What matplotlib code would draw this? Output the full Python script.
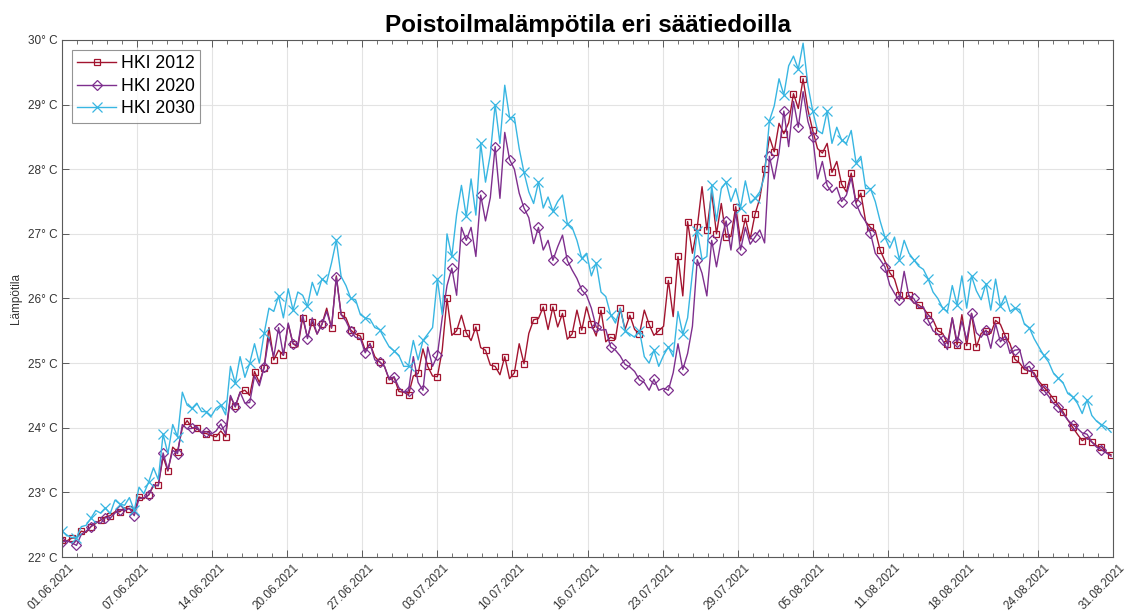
import numpy as np
import pandas as pd
import matplotlib
matplotlib.use("Agg")
import matplotlib.pyplot as plt
import matplotlib.dates as mdates
import matplotlib.transforms as mtransforms
from matplotlib.ticker import FixedLocator

plt.rcParams['font.family'] = ['Liberation Sans', 'DejaVu Sans']

# Exhaust-air temperature, one value every 10 hours from 01.06.2021
start_time = "2021-06-01 00:00"
end_time = "2021-08-31 00:00"
step_hours = 10

hki_2012 = [
    22.26, 22.25, 22.29, 22.30, 22.40, 22.38, 22.47, 22.52, 22.57, 22.62,
    22.64, 22.70, 22.70, 22.76, 22.75, 22.70, 22.93, 22.90, 22.96, 23.10,
    23.11, 23.55, 23.33, 23.70, 23.63, 24.00, 24.11, 24.00, 23.99, 23.92,
    23.91, 23.88, 23.86, 23.95, 23.86, 24.48, 24.33, 24.55, 24.58, 24.50,
    24.87, 24.70, 24.93, 25.55, 25.05, 25.20, 25.12, 25.60, 25.30, 25.25,
    25.70, 25.40, 25.64, 25.45, 25.60, 25.85, 25.54, 26.35, 25.75, 25.70,
    25.51, 25.45, 25.42, 25.20, 25.30, 25.10, 25.02, 24.95, 24.74, 24.78,
    24.56, 24.55, 24.51, 24.80, 24.84, 25.22, 24.95, 24.80, 24.79, 25.20,
    26.00, 25.43, 25.50, 25.74, 25.47, 25.35, 25.56, 25.24, 25.20, 24.97,
    24.95, 24.82, 25.10, 24.76, 24.85, 25.30, 24.99, 25.46, 25.67, 25.69,
    25.87, 25.52, 25.87, 25.56, 25.77, 25.37, 25.45, 25.82, 25.51, 25.87,
    25.60, 25.42, 25.82, 25.33, 25.40, 25.37, 25.85, 25.52, 25.74, 25.52,
    25.45, 25.82, 25.60, 25.43, 25.50, 25.57, 26.28, 25.72, 26.65, 26.04,
    27.19, 26.70, 27.10, 27.73, 27.06, 27.64, 27.00, 27.47, 26.95, 26.96,
    27.42, 26.89, 27.24, 26.92, 27.30, 27.55, 28.00, 28.50, 28.27, 28.71,
    28.55, 28.72, 29.17, 28.94, 29.40, 28.92, 28.60, 28.32, 28.25, 28.40,
    27.95, 28.12, 27.77, 27.65, 27.94, 27.48, 27.63, 27.19, 27.10, 27.05,
    26.75, 26.58, 26.40, 26.30, 26.05, 25.99, 26.05, 25.93, 25.90, 25.85,
    25.75, 25.67, 25.50, 25.46, 25.30, 25.70, 25.28, 25.75, 25.27, 25.77,
    25.25, 25.46, 25.50, 25.46, 25.66, 25.60, 25.42, 25.30, 25.06, 25.00,
    24.90, 24.88, 24.85, 24.72, 24.63, 24.55, 24.45, 24.35, 24.25, 24.12,
    24.01, 23.90, 23.80, 23.85, 23.78, 23.72, 23.70, 23.62, 23.58,
]

hki_2020 = [
    22.23, 22.25, 22.22, 22.18, 22.35, 22.40, 22.47, 22.55, 22.52, 22.61,
    22.60, 22.68, 22.73, 22.72, 22.75, 22.64, 22.90, 22.92, 22.96, 23.12,
    23.10, 23.61, 23.35, 23.65, 23.60, 24.05, 23.98, 23.99, 24.02, 23.92,
    23.94, 23.90, 23.95, 24.06, 23.90, 24.50, 24.32, 24.55, 24.38, 24.39,
    24.80, 24.65, 24.94, 25.40, 25.10, 25.55, 25.12, 25.62, 25.30, 25.28,
    25.75, 25.38, 25.70, 25.45, 25.60, 25.80, 25.55, 26.33, 25.75, 25.65,
    25.49, 25.40, 25.38, 25.16, 25.30, 25.05, 25.02, 24.95, 24.75, 24.79,
    24.62, 24.55, 24.57, 25.10, 24.70, 24.58, 25.25, 24.95, 25.12, 25.70,
    26.20, 26.47, 26.05, 27.10, 26.90, 27.10, 26.65, 27.60, 27.20, 27.56,
    28.35, 27.55, 28.57, 28.15, 28.00, 27.63, 27.40, 27.25, 26.85, 27.10,
    26.75, 26.90, 26.59, 26.80, 26.98, 26.59, 26.44, 26.31, 26.13, 26.05,
    25.85, 25.56, 25.51, 25.52, 25.25, 25.20, 25.11, 24.98, 24.94, 24.87,
    24.74, 24.70, 24.58, 24.75, 24.58, 24.61, 24.58, 24.85, 25.30, 24.90,
    25.15, 25.57, 26.60, 26.39, 26.04, 26.90, 26.49, 26.91, 27.20, 26.75,
    27.34, 26.75, 27.10, 26.84, 26.95, 27.06, 26.86, 28.20, 27.85, 28.26,
    28.90, 28.35, 29.05, 28.65, 29.20, 28.74, 28.50, 27.85, 28.12, 27.75,
    27.64, 27.72, 27.50, 27.60, 27.87, 27.47, 27.30, 27.19, 27.01, 26.70,
    26.60, 26.49, 26.21, 26.08, 25.97, 26.42, 26.03, 26.00, 25.86, 25.87,
    25.66, 25.50, 25.45, 25.35, 25.21, 25.70, 25.33, 25.65, 25.36, 25.77,
    25.47, 25.40, 25.51, 25.23, 25.61, 25.33, 25.42, 25.15, 25.20, 25.21,
    24.92, 24.95, 24.82, 24.68, 24.58, 24.49, 24.38, 24.32, 24.22, 24.12,
    24.05, 23.99, 23.92, 23.90, 23.78, 23.70, 23.66, 23.61, 23.56,
]

hki_2030 = [
    22.40, 22.34, 22.30, 22.30, 22.47, 22.49, 22.60, 22.72, 22.68, 22.76,
    22.67, 22.88, 22.82, 22.80, 22.92, 22.72, 23.08, 22.98, 23.16, 23.38,
    23.20, 23.90, 23.60, 24.05, 23.86, 24.55, 24.35, 24.30, 24.38, 24.25,
    24.25, 24.18, 24.30, 24.35, 24.20, 24.95, 24.69, 25.10, 24.78, 25.00,
    25.30, 25.00, 25.46, 25.85, 25.80, 26.04, 25.70, 26.15, 25.82, 26.10,
    26.05, 25.88, 26.25, 26.05, 26.30, 26.25, 26.55, 26.90, 26.34, 26.20,
    26.00, 25.98, 25.75, 25.70, 25.68, 25.55, 25.52, 25.38, 25.25, 25.19,
    25.12, 24.95, 24.95, 25.35, 25.05, 25.35, 25.45, 25.55, 26.30, 25.75,
    27.00, 26.65, 27.30, 27.75, 27.27, 27.85, 27.29, 28.40, 27.80, 28.23,
    29.00, 28.40, 29.30, 28.80, 28.80, 28.32, 27.95, 27.65, 27.47, 27.80,
    27.40, 27.57, 27.35, 27.50, 27.60, 27.16, 27.10, 26.90, 26.62, 26.70,
    26.35, 26.55, 26.10, 26.03, 25.75, 25.62, 25.85, 25.50, 25.45, 25.40,
    25.50, 25.10, 25.00, 25.20, 24.95, 25.12, 25.25, 25.10, 25.80, 25.45,
    25.70, 26.40, 27.05, 26.60, 26.65, 27.75, 27.20, 27.70, 27.80, 27.50,
    27.70, 27.40, 27.82, 27.48, 27.55, 27.65, 27.90, 28.75, 28.98, 29.40,
    29.15, 29.60, 29.75, 29.55, 29.95, 29.30, 28.90, 28.60, 28.55, 28.90,
    28.40, 28.65, 28.45, 28.40, 28.60, 28.10, 28.20, 27.70, 27.70, 27.50,
    27.20, 26.95, 26.78, 26.95, 26.60, 26.90, 26.70, 26.60, 26.50, 26.45,
    26.30, 26.10, 26.00, 25.85, 25.80, 26.20, 25.90, 26.35, 25.85, 26.35,
    26.12, 25.98, 26.23, 25.82, 26.30, 25.88, 26.04, 25.80, 25.85, 25.83,
    25.60, 25.55, 25.38, 25.25, 25.12, 25.02, 24.85, 24.77, 24.70, 24.53,
    24.48, 24.38, 24.22, 24.43, 24.19, 24.10, 24.05, 24.01, 23.93,
]

series_names = ["HKI 2012", "HKI 2020", "HKI 2030"]
y_ticks = [22, 23, 24, 25, 26, 27, 28, 29, 30]

times = pd.date_range(start_time, periods=len(hki_2012), freq=f"{step_hours}h")
xnum = mdates.date2num(times.to_pydatetime())

fig = plt.figure(figsize=(11.28, 6.15), dpi=100)
ax = fig.add_axes([0.055, 0.0943, 0.9317, 0.8407])

styles = [
    dict(color="#A2142F", marker="s", markersize=5.0, markevery=2),
    dict(color="#7E2F8E", marker="D", markersize=5.3, markevery=3),
    dict(color="#38B6E2", marker="x", markersize=7.0, markevery=3),
]
for name, vals, st in zip(series_names, [hki_2012, hki_2020, hki_2030], styles):
    ax.plot(xnum, vals, color=st["color"], lw=1.0, marker=st["marker"],
            markersize=st["markersize"], markevery=st["markevery"],
            markerfacecolor="none", markeredgecolor=st["color"],
            markeredgewidth=0.9, label=name)

x0 = mdates.date2num(pd.Timestamp(start_time).to_pydatetime())
x1 = mdates.date2num(pd.Timestamp(end_time).to_pydatetime())
ax.set_xlim(x0, x1)
ax.set_ylim(22, 30)

major = np.linspace(x0, x1, 15)
minor = np.linspace(x0, x1, 14 * 5 + 1)
ax.xaxis.set_major_locator(FixedLocator(major))
ax.xaxis.set_minor_locator(FixedLocator(minor))
ax.xaxis.set_major_formatter(mdates.DateFormatter("%d.%m.%Y"))
ax.set_yticks(y_ticks)
ax.set_yticklabels([f"{v}\u00b0 C" for v in y_ticks])

axis_col = "#5a5a5a"
for s in ax.spines.values():
    s.set_color(axis_col)
    s.set_linewidth(0.8)
ax.tick_params(axis="both", which="both", direction="in", top=True, right=True,
               colors=axis_col, labelcolor="#333333", labelsize=8.5)
ax.tick_params(axis="both", which="major", length=5, width=0.7)
ax.tick_params(axis="x", which="minor", length=3, width=0.6)

shift = mtransforms.ScaledTranslation(6 / 100, 0, fig.dpi_scale_trans)
for lab in ax.get_xticklabels():
    lab.set_rotation(45)
    lab.set_ha("right")
    lab.set_va("top")
    lab.set_rotation_mode("anchor")
    lab.set_transform(lab.get_transform() + shift)

ax.grid(True, which="major", color="#e3e3e3", lw=0.8)
ax.set_axisbelow(True)

ax.set_ylabel("Lämpötila", fontsize=8.5, color="#333333", labelpad=4)
ax.set_title("Poistoilmalämpötila eri säätiedoilla", fontsize=17.5,
             fontweight="bold", pad=6)

leg = ax.legend(loc="upper left", bbox_to_anchor=(0.0095, 0.981), fontsize=12.7,
                frameon=True, fancybox=False, edgecolor="#7a7a7a",
                handlelength=2.2, handletextpad=0.25, borderpad=0.3,
                labelspacing=0.32, borderaxespad=0.0)
leg.get_frame().set_linewidth(0.8)

fig.savefig("out.png", dpi=100)
